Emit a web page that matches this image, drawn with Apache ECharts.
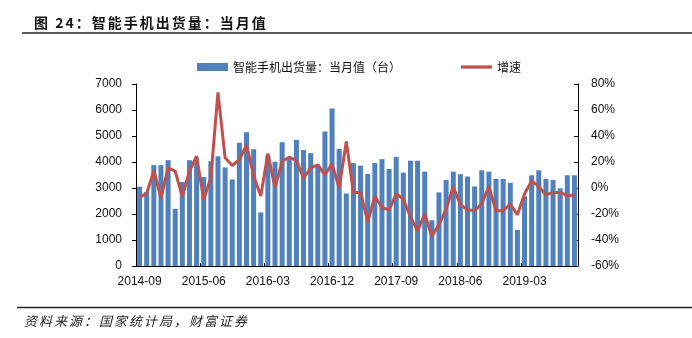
<!DOCTYPE html>
<html><head><meta charset="utf-8">
<script src="https://cdn.jsdelivr.net/npm/echarts@6/dist/echarts.min.js"></script>
<style>html,body{margin:0;padding:0;background:#fff;}#c{width:692px;height:338px;}</style>
</head><body><div id="c"></div>
<script>
const categories = [
'2014-09','2014-10','2014-11','2014-12',
'2015-01','2015-02','2015-03','2015-04','2015-05','2015-06','2015-07','2015-08','2015-09','2015-10','2015-11','2015-12',
'2016-01','2016-02','2016-03','2016-04','2016-05','2016-06','2016-07','2016-08','2016-09','2016-10','2016-11','2016-12',
'2017-01','2017-02','2017-03','2017-04','2017-05','2017-06','2017-07','2017-08','2017-09','2017-10','2017-11','2017-12',
'2018-01','2018-02','2018-03','2018-04','2018-05','2018-06','2018-07','2018-08','2018-09','2018-10','2018-11','2018-12',
'2019-01','2019-02','2019-03','2019-04','2019-05','2019-06','2019-07','2019-08','2019-09','2019-10'];
const shipments = [
3050,2850,3880,3880,
4070,2200,3230,4070,4150,3420,4030,4220,3790,3330,4740,5140,
4490,2060,4250,4010,4760,4200,4850,4460,4340,3900,5170,6060,
4500,2790,3960,3860,3540,3960,4110,3730,4200,3590,4050,4050,
3630,1760,2830,3310,3630,3530,3440,3060,3680,3630,3350,3350,
3200,1390,2680,3490,3680,3350,3310,2990,3490,3490];
const growth = [
-7.2,-4.1,13.4,-7.7,
15.5,12.9,-6.7,12.9,24.5,-9.0,8.2,73.5,23.2,17.3,21.9,33.2,
9.5,-6.2,26.5,0.3,20.6,23.7,21.1,7.5,15.5,17.8,10.1,18.6,
0,35.8,-3.4,-3.4,-26,-6.4,-15,-16.8,-4.6,-8.5,-22.2,-33,
-20,-36.9,-28.4,-16.2,1,-12.9,-16.8,-17.5,-11.9,1,-17.5,-17.5,
-12.4,-20.6,-4.6,5.7,1,-5.2,-3.4,-3.4,-5.9,-5.4];
const leftTicks = {min:0, max:7000, interval:1000};
const rightTicks = {min:-60, max:80, interval:20};
const titleText = '图 24：智能手机出货量：当月值';
const sourceText = '资料来源：国家统计局，财富证券';
const barName = '智能手机出货量：当月值（台）';
const lineName = '增速';

// spread characters (letter spacing) via rich text tokens
function spaced(str, style){ return Array.from(str).map(ch => '{' + style + '|' + ch + '}').join(''); }

const chart = echarts.init(document.getElementById('c'), null, {renderer:'canvas'});
const latin = 'Liberation Sans, Arial, sans-serif';
const cjk = 'Noto Sans CJK SC, sans-serif';
chart.setOption({
  animation:false,
  backgroundColor:'#fff',
  title:{text:spaced(titleText,'t'),left:28,top:11,
    textStyle:{fontFamily:cjk,fontSize:14,fontWeight:'bold',color:'#111',
      rich:{t:{fontFamily:cjk,fontSize:14,fontWeight:'bold',color:'#111',padding:[0,1,0,1]}}}},
  graphic:[
    {type:'line',shape:{x1:22,y1:33,x2:692,y2:33},style:{stroke:'#222',lineWidth:1.5}},
    {type:'line',shape:{x1:17,y1:307.5,x2:692,y2:307.5},style:{stroke:'#222',lineWidth:1.5}},
    {type:'text',left:24,top:315,style:{text:spaced(sourceText,'s'),
      rich:{s:{font:'italic 13px Noto Sans CJK SC, sans-serif',fill:'#222',padding:[0,1,0,1]}},
      font:'italic 13px Noto Sans CJK SC, sans-serif',fill:'#222'}}
  ],
  legend:{
    left:192,top:56,itemGap:60,itemWidth:31,itemHeight:8,
    textStyle:{fontFamily:cjk,fontSize:12,color:'#111'},
    data:[{name:barName,icon:'rect'},{name:lineName,icon:'path://M0 0H32V3.4H0Z'}]
  },
  grid:{left:136,right:114,top:84,bottom:72,containLabel:false},
  xAxis:{
    type:'category',data:categories,boundaryGap:true,
    axisLine:{lineStyle:{color:'#000',width:1}},
    axisTick:{show:true,inside:true,length:3,interval:8,alignWithLabel:false,lineStyle:{color:'#000'}},
    axisLabel:{interval:8,margin:10,fontFamily:latin,fontSize:12,color:'#111'},
    splitLine:{show:false}
  },
  yAxis:[
    {type:'value',min:leftTicks.min,max:leftTicks.max,interval:leftTicks.interval,
     axisLine:{show:true,lineStyle:{color:'#000'}},
     axisTick:{show:true,inside:false,length:4,lineStyle:{color:'#000'}},
     axisLabel:{margin:14,fontFamily:latin,fontSize:12,color:'#111',formatter:function(v){return String(v);}},
     splitLine:{show:false}},
    {type:'value',min:rightTicks.min,max:rightTicks.max,interval:rightTicks.interval,position:'right',
     axisLine:{show:true,lineStyle:{color:'#000'}},
     axisTick:{show:true,inside:true,length:4,lineStyle:{color:'#000'}},
     axisLabel:{margin:13,fontFamily:latin,fontSize:12,color:'#111',formatter:'{value}%'},
     splitLine:{show:false}}
  ],
  series:[
    {name:barName,type:'bar',data:shipments,yAxisIndex:0,barWidth:5,itemStyle:{color:'#4f81bd'}},
    {name:lineName,type:'line',data:growth,yAxisIndex:1,symbol:'none',showSymbol:false,
     lineStyle:{color:'#c0504d',width:3},itemStyle:{color:'#c0504d'}}
  ]
});
</script></body></html>
